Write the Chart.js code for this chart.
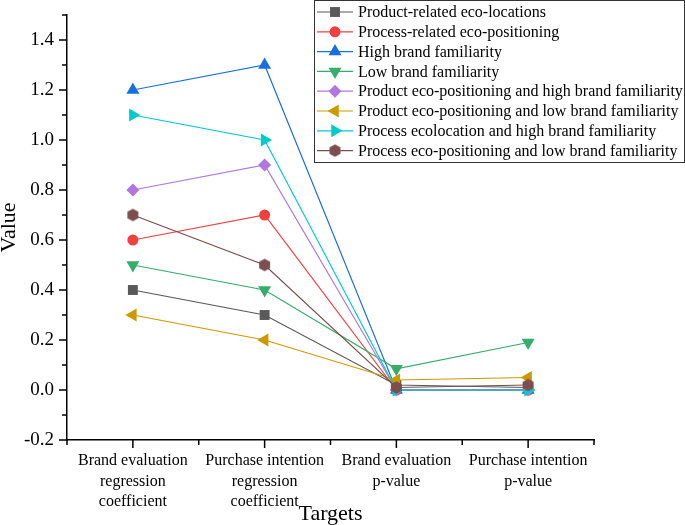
<!DOCTYPE html>
<html>
<head>
<meta charset="utf-8">
<script src="https://cdn.jsdelivr.net/npm/chart.js@4.4.0/dist/chart.umd.min.js"></script>
<style>
  html, body { margin: 0; padding: 0; background: #fff; }
  #wrap { width: 685px; height: 525px; }
</style>
</head>
<body>
<div id="wrap"><canvas id="chart" width="685" height="525"></canvas></div>
<script>
// Categories on the x axis
const categories = [
    ['Brand evaluation', 'regression', 'coefficient'],
    ['Purchase intention', 'regression', 'coefficient'],
    ['Brand evaluation', 'p-value'],
    ['Purchase intention', 'p-value']
];

const seriesNames = [
    'Product-related eco-locations',
    'Process-related eco-positioning',
    'High brand familiarity',
    'Low brand familiarity',
    'Product eco-positioning and high brand familiarity',
    'Product eco-positioning and low brand familiarity',
    'Process ecolocation and high brand familiarity',
    'Process eco-positioning and low brand familiarity'
];

// Series values
const productLocations   = [0.4, 0.3, 0.02, 0.01];
const processPositioning = [0.6, 0.7, 0.0, 0.0];
const highFamiliarity    = [1.2, 1.3, 0.0, 0.0];
const lowFamiliarity     = [0.5, 0.4, 0.085, 0.19];
const productHigh        = [0.8, 0.9, 0.0, 0.0];
const productLow         = [0.3, 0.2, 0.04, 0.05];
const processHigh        = [1.1, 1.0, 0.0, 0.0];
const processLow         = [0.7, 0.5, 0.01, 0.02];

const yTickLabels = ['-0.2', '0.0', '0.2', '0.4', '0.6', '0.8', '1.0', '1.2', '1.4'];

const seriesValues = [productLocations, processPositioning, highFamiliarity, lowFamiliarity,
    productHigh, productLow, processHigh, processLow];
const colors = ['#595959', '#F14040', '#1A6FDF', '#37AD6B', '#B177DE', '#CC9900', '#00CBCC', '#7D4E4E'];

const SERIF = '"Liberation Serif", "Times New Roman", serif';

// hexagon marker for the last series
function hexagon(color, r) {
    const c = document.createElement('canvas');
    const s = Math.ceil(r * 2 + 2);
    c.width = s; c.height = s;
    const g = c.getContext('2d');
    g.fillStyle = color;
    g.beginPath();
    for (let k = 0; k < 6; k++) {
        const a = Math.PI / 6 + k * Math.PI / 3;
        const px = s / 2 + r * Math.cos(a), py = s / 2 + r * Math.sin(a);
        if (k === 0) g.moveTo(px, py); else g.lineTo(px, py);
    }
    g.closePath();
    g.fill();
    return c;
}

const markers = [
    { style: 'rect', rotation: 0, radius: 7 },
    { style: 'circle', rotation: 0, radius: 5.5 },
    { style: 'triangle', rotation: 0, radius: 7.5 },
    { style: 'triangle', rotation: 180, radius: 7.5 },
    { style: 'rectRot', rotation: 0, radius: 6.5 },
    { style: 'triangle', rotation: -90, radius: 7.5 },
    { style: 'triangle', rotation: 90, radius: 7.5 },
    { style: hexagon(colors[7], 6.3), rotation: 0, radius: 6.3 }
];

const datasets = seriesNames.map((name, i) => ({
    label: name,
    data: seriesValues[i],
    borderColor: colors[i],
    backgroundColor: colors[i],
    borderWidth: 1.2,
    pointStyle: markers[i].style,
    pointRotation: markers[i].rotation,
    pointRadius: markers[i].radius,
    pointHoverRadius: markers[i].radius,
    pointBorderWidth: 0,
    tension: 0,
    order: seriesNames.length - 1 - i
}));

// tick marks: major outward, minor shorter
const axisTicks = {
    id: 'axisTicks',
    afterDraw(chart) {
        const ctx = chart.ctx;
        const x = chart.scales.x, y = chart.scales.y;
        const left = chart.chartArea.left, bottom = chart.chartArea.bottom;
        ctx.save();
        ctx.strokeStyle = '#000';
        ctx.lineWidth = 1.5;
        ctx.beginPath();
        for (let k = -2; k <= 15; k++) {
            const py = y.getPixelForValue(k / 10);
            const len = (k % 2 === 0) ? 8 : 5;
            ctx.moveTo(left, py);
            ctx.lineTo(left - len, py);
        }
        for (let i = 0; i < categories.length; i++) {
            const px = x.getPixelForValue(i);
            ctx.moveTo(px, bottom);
            ctx.lineTo(px, bottom + 8);
        }
        for (let i = -0.5; i <= categories.length - 0.5; i++) {
            const px = x.getPixelForValue(i);
            ctx.moveTo(px, bottom);
            ctx.lineTo(px, bottom + 5);
        }
        ctx.stroke();
        ctx.restore();
    }
};

// boxed legend with line through the marker
const boxLegend = {
    id: 'boxLegend',
    afterDraw(chart) {
        const ctx = chart.ctx;
        const bx = 314, by = 0.5, bw = 370, bh = 162;
        ctx.save();
        ctx.fillStyle = '#fff';
        ctx.fillRect(bx, by, bw, bh);
        ctx.strokeStyle = '#333';
        ctx.lineWidth = 1;
        ctx.strokeRect(bx + 0.5, by, bw, bh);
        ctx.font = '16px ' + SERIF;
        ctx.textBaseline = 'middle';
        ctx.textAlign = 'left';
        seriesNames.forEach((name, i) => {
            const ry = 12 + i * 19.8;
            ctx.strokeStyle = colors[i];
            ctx.lineWidth = 1.2;
            ctx.beginPath();
            ctx.moveTo(317, ry);
            ctx.lineTo(353, ry);
            ctx.stroke();
            ctx.fillStyle = colors[i];
            Chart.helpers.drawPoint(ctx, {
                pointStyle: markers[i].style,
                rotation: markers[i].rotation,
                radius: markers[i].radius,
                borderWidth: 0
            }, 335, ry);
            ctx.fillStyle = '#000';
            ctx.fillText(name, 358, ry + 1);
        });
        ctx.restore();
    }
};

new Chart(document.getElementById('chart').getContext('2d'), {
    type: 'line',
    data: { labels: categories, datasets: datasets },
    options: {
        responsive: false,
        animation: false,
        layout: { padding: { left: 0, top: 15, right: 91, bottom: 0 } },
        plugins: {
            legend: { display: false },
            tooltip: { enabled: false }
        },
        scales: {
            x: {
                offset: true,
                grid: { display: false, drawTicks: false },
                border: { display: true, color: '#000', width: 1.5 },
                ticks: {
                    color: '#000',
                    padding: 11,
                    maxRotation: 0,
                    autoSkip: false,
                    font: { family: SERIF, size: 16, lineHeight: 1.28 }
                },
                title: {
                    display: true,
                    text: 'Targets',
                    color: '#000',
                    padding: { top: 0, bottom: -2 },
                    font: { family: SERIF, size: 22 }
                },
                afterFit(scale) {
                    scale.height = 85;
                    scale.paddingLeft = 0;
                    scale.paddingRight = 0;
                }
            },
            y: {
                min: -0.2,
                max: 1.5,
                grid: { display: false, drawTicks: false },
                border: { display: true, color: '#000', width: 1.5 },
                ticks: {
                    stepSize: 0.1,
                    autoSkip: false,
                    color: '#000',
                    padding: 13,
                    font: { family: SERIF, size: 19 },
                    callback(v) {
                        const idx = Math.round((v + 0.2) * 5);
                        if (Math.abs((v + 0.2) * 5 - idx) > 1e-6) return '';
                        return yTickLabels[idx] || '';
                    }
                },
                title: {
                    display: true,
                    text: 'Value',
                    color: '#000',
                    padding: { top: -2, bottom: 0 },
                    font: { family: SERIF, size: 22, lineHeight: 1 }
                },
                afterFit(scale) {
                    scale.width = 67;
                    scale.paddingTop = 0;
                    scale.paddingBottom = 0;
                }
            }
        }
    },
    plugins: [axisTicks, boxLegend]
});
</script>
</body>
</html>
